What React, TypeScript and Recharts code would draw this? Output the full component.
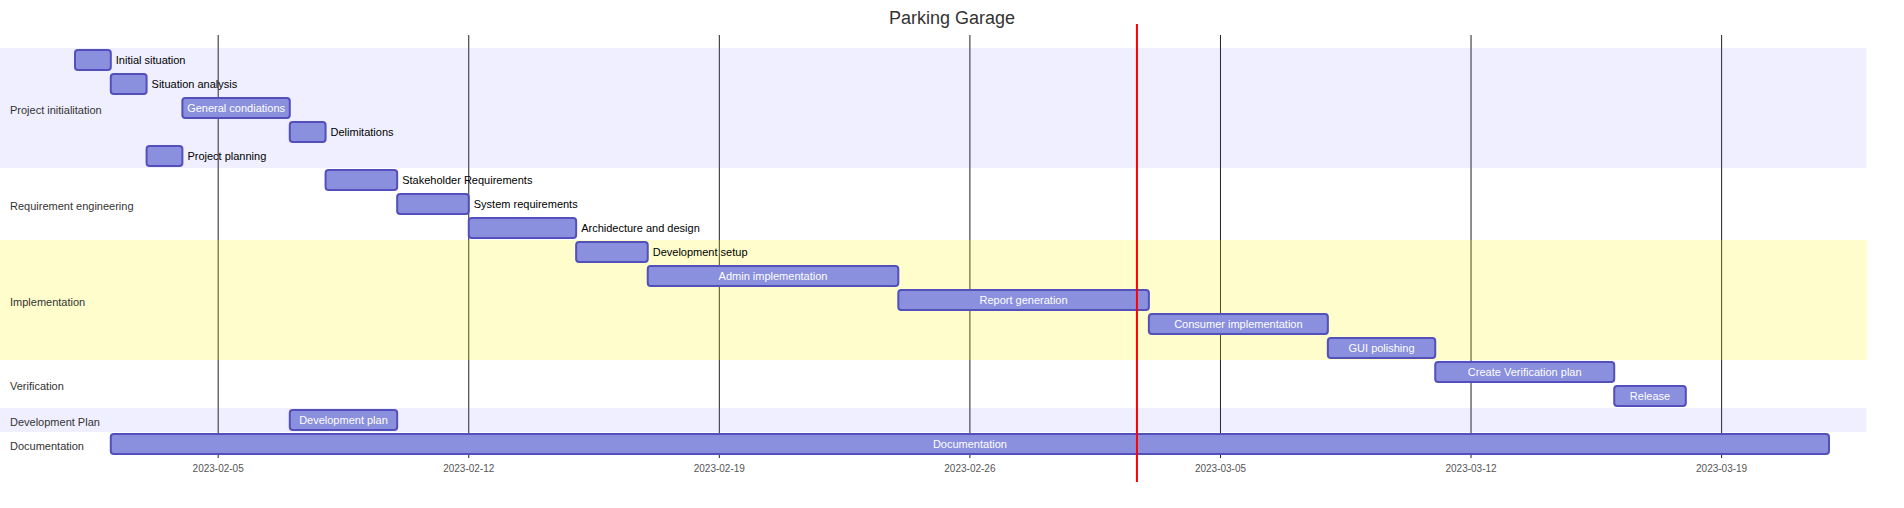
import { BarChart, Bar, XAxis, YAxis, CartesianGrid, ReferenceArea, ReferenceLine, LabelList } from "recharts";

const tasks = [
  "Initial situation",
  "Situation analysis",
  "General condiations",
  "Delimitations",
  "Project planning",
  "Stakeholder Requirements",
  "System requirements",
  "Archidecture and design",
  "Development setup",
  "Admin implementation",
  "Report generation",
  "Consumer implementation",
  "GUI polishing",
  "Create Verification plan",
  "Release",
  "Development plan",
  "Documentation",
];

const starts = [
  "2023-02-01", "2023-02-02", "2023-02-04", "2023-02-07", "2023-02-03",
  "2023-02-08", "2023-02-10", "2023-02-12",
  "2023-02-15", "2023-02-17", "2023-02-24", "2023-03-03", "2023-03-08",
  "2023-03-11", "2023-03-16",
  "2023-02-07",
  "2023-02-02",
];

const ends = [
  "2023-02-02", "2023-02-03", "2023-02-07", "2023-02-08", "2023-02-04",
  "2023-02-10", "2023-02-12", "2023-02-15",
  "2023-02-17", "2023-02-24", "2023-03-03", "2023-03-08", "2023-03-11",
  "2023-03-16", "2023-03-18",
  "2023-02-10",
  "2023-03-22",
];

const sections = ["Project initialitation", "Requirement engineering", "Implementation", "Verification", "Development Plan", "Documentation"];
const sectionSizes = [5, 3, 5, 2, 1, 1];
const sectionFills = ["rgba(102,102,255,0.1)", "rgba(255,255,255,0)", "rgba(255,244,0,0.2)", "rgba(255,255,255,0)", "rgba(102,102,255,0.1)", "rgba(255,255,255,0)"];

const tickDates = ["2023-02-05", "2023-02-12", "2023-02-19", "2023-02-26", "2023-03-05", "2023-03-12", "2023-03-19"];
const today = "2023-03-02T16:00:00Z";

const DAY = 86400000;
const origin = Date.UTC(2023, 1, 1);
const toDay = (s: string) => (Date.parse(s.length === 10 ? s + "T00:00:00Z" : s) - origin) / DAY;
const fromDay = (d: number) => new Date(origin + d * DAY).toISOString().slice(0, 10);

const data = tasks.map((task, i) => ({ task, range: [toDay(starts[i]), toDay(ends[i])] }));
const minDay = Math.min(...starts.map(toDay));
const maxDay = Math.max(...ends.map(toDay));

const W = 1904;
const H = 508;
const PAD = 75;
const FONT = "'Liberation Sans', Arial, sans-serif";
const pxPerDay = (W - 2 * PAD) / (maxDay - minDay);
const tickPx = tickDates.map((d) => PAD + (toDay(d) - minDay) * pxPerDay);

let ctx: CanvasRenderingContext2D | null = null;
const textWidth = (t: string) => {
  if (!ctx) ctx = document.createElement("canvas").getContext("2d");
  if (!ctx) return t.length * 5.5;
  ctx.font = `11px ${FONT}`;
  return ctx.measureText(t).width;
};

const TaskBar = (p: any) => (
  <rect x={p.x} y={p.y} width={p.width} height={p.height} rx={3} ry={3} fill="#8a90dd" stroke="#534fbc" strokeWidth={2} />
);

const TaskLabel = (p: any) => {
  const { x, y, width, height, value } = p;
  const inside = textWidth(String(value)) < width;
  return (
    <text
      x={inside ? x + width / 2 : x + width + 5}
      y={y + height / 2}
      dominantBaseline="central"
      textAnchor={inside ? "middle" : "start"}
      fill={inside ? "#fff" : "#000"}
      fontSize={11}
      fontFamily={FONT}
    >
      {value}
    </text>
  );
};

const DateTick = (p: any) => (
  <text x={p.x} y={p.y + 4} textAnchor="middle" dominantBaseline="central" fill="#555" fontSize={10} fontFamily={FONT}>
    {fromDay(p.payload.value)}
  </text>
);

const GridLine = (g: any) =>
  tickPx.some((t) => Math.abs(t - g.x1) < 1) ? (
    <line key={g.key} x1={g.x1} x2={g.x2} y1={35} y2={458} stroke="#222" strokeWidth={1} />
  ) : (
    <g key={g.key} />
  );

export default function App() {
  let row = 0;
  const bands = sections.map((name, i) => {
    const first = tasks[row];
    const last = tasks[row + sectionSizes[i] - 1];
    row += sectionSizes[i];
    return (
      <ReferenceArea
        key={name}
        y1={first}
        y2={last}
        x1={minDay - PAD / pxPerDay}
        x2={maxDay + PAD / 2 / pxPerDay}
        ifOverflow="visible"
        fill={sectionFills[i]}
        fillOpacity={1}
        stroke="none"
        label={{ value: name, position: "insideLeft", offset: 10, dy: 2, fill: "#333", fontSize: 11, fontFamily: FONT }}
      />
    );
  });

  return (
    <div style={{ position: "absolute", left: 0, top: 0, width: W, height: H, background: "#fff" }}>
      <div style={{ position: "absolute", left: 0, top: 7, width: W, textAlign: "center", fontFamily: FONT, fontSize: 18, color: "#333", lineHeight: "22px" }}>
        Parking Garage
      </div>
      <BarChart width={W} height={H} data={data} layout="vertical" margin={{ top: 48, right: PAD, bottom: 22, left: PAD }} barSize={20}>
        {bands}
        <CartesianGrid horizontal={false} vertical={GridLine} />
        <XAxis
          type="number"
          domain={[minDay, maxDay]}
          ticks={tickDates.map(toDay)}
          axisLine={false}
          tickLine={false}
          height={30}
          tick={<DateTick />}
        />
        <YAxis type="category" dataKey="task" hide />
        <Bar dataKey="range" shape={<TaskBar />} isAnimationActive={false}>
          <LabelList dataKey="task" content={<TaskLabel />} />
        </Bar>
        <ReferenceLine
          x={toDay(today)}
          ifOverflow="visible"
          shape={(l: any) => <line x1={l.x1} x2={l.x2} y1={24} y2={482} stroke="red" strokeWidth={2} />}
        />
      </BarChart>
    </div>
  );
}
